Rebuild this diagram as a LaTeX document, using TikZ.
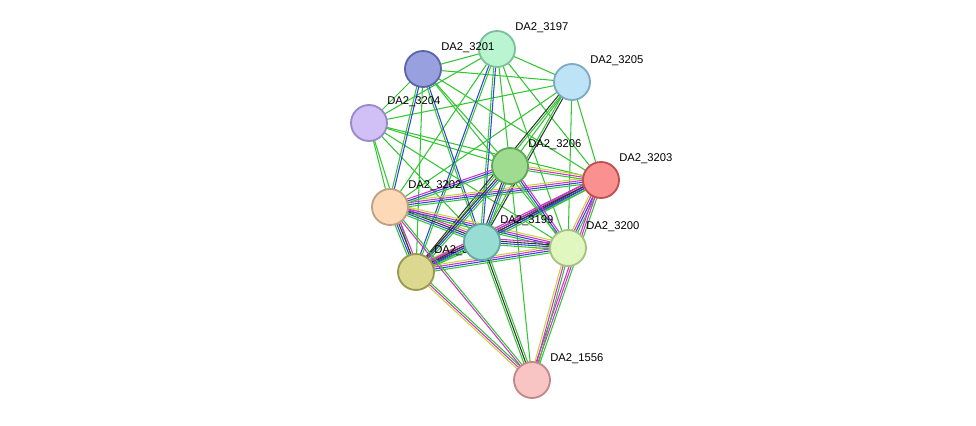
\documentclass[tikz,border=0pt]{standalone}
\usepackage{fontspec}
\setmainfont{Liberation Sans}
\usetikzlibrary{calc}

\definecolor{eGreen}{HTML}{33C633}
\definecolor{eBlue}{HTML}{3344DD}
\definecolor{eMag}{HTML}{CC33CC}
\definecolor{eYel}{HTML}{C8D43C}
\definecolor{eBlack}{HTML}{333333}
\definecolor{f3197}{HTML}{B9F5D0} \definecolor{d3197}{HTML}{7CC09A}
\definecolor{f3201}{HTML}{98A0E0} \definecolor{d3201}{HTML}{5A64A8}
\definecolor{f3205}{HTML}{BDE3F7} \definecolor{d3205}{HTML}{7EA8C4}
\definecolor{f3204}{HTML}{D0C0F5} \definecolor{d3204}{HTML}{9A88C8}
\definecolor{f3206}{HTML}{A0DC90} \definecolor{d3206}{HTML}{60A858}
\definecolor{f3203}{HTML}{FB9090} \definecolor{d3203}{HTML}{C05050}
\definecolor{f3202}{HTML}{FDD9B8} \definecolor{d3202}{HTML}{C0A080}
\definecolor{f3200}{HTML}{E0F8C0} \definecolor{d3200}{HTML}{A8C080}
\definecolor{f3198}{HTML}{DCD890} \definecolor{d3198}{HTML}{989850}
\definecolor{f3199}{HTML}{98DDD4} \definecolor{d3199}{HTML}{60A8A0}
\definecolor{f1556}{HTML}{F8C4C4} \definecolor{d1556}{HTML}{C08888}

\tikzset{
  prot/.style = {circle, minimum size = 0.9cm, line width = 1.3pt, fill = f#1, draw = d#1},
  plabel/.style = {anchor = south west, font = \fontsize{8}{9}\selectfont, inner sep = 0pt},
  edge/.style = {line width = 0.75pt}
}

% one connector drawn as parallel coloured lines
\newcommand{\bundle}[3]{%
  \foreach \c [count = \i] in {#3}
    \draw[edge, \c] ($(#1)!{(\i-2)*1.4pt}!90:(#2)$) -- ($(#2)!{(\i-2)*1.4pt}!-90:(#1)$);
}

\begin{document}
\begin{tikzpicture}[x = 0.025cm, y = -0.025cm]
	 \useasboundingbox (0, 0) rectangle (976, 426);

	 \coordinate (n3197) at (497, 49);
	 \coordinate (n3201) at (423, 69);
	 \coordinate (n3205) at (572, 82);
	 \coordinate (n3204) at (369, 123);
	 \coordinate (n3206) at (510, 166);
	 \coordinate (n3203) at (601, 180);
	 \coordinate (n3202) at (390, 207);
	 \coordinate (n3199) at (482, 242);
	 \coordinate (n3200) at (568, 248);
	 \coordinate (n3198) at (416, 272);
	 \coordinate (n1556) at (532, 380);

	 % green links of the upper nodes
	 \foreach \a/\b in {n3197/n3201, n3197/n3205, n3197/n3204, n3201/n3205, n3201/n3204, n3205/n3204,
	   n3197/n3206, n3197/n3202, n3197/n3200, n3197/n3203, n3201/n3206, n3201/n3203, n3201/n3200,
	   n3201/n3198, n3205/n3206, n3205/n3203, n3205/n3202, n3205/n3200, n3204/n3206, n3204/n3203,
	   n3204/n3202, n3204/n3199, n3204/n3198, n3204/n3200, n3206/n1556}
	 \draw[edge, eGreen] (\a) -- (\b);
	 \bundle{n3197}{n3199}{eGreen, eBlue}
	 \bundle{n3201}{n3199}{eGreen, eBlue}
	 \bundle{n3197}{n3198}{eBlue, eGreen}
	 \bundle{n3205}{n3199}{eGreen, eBlack}
	 \bundle{n3205}{n3198}{eBlack, eGreen}
	 \bundle{n3201}{n3202}{eGreen, eBlue}

	 % dense links of the lower group
	 \bundle{n3202}{n3199}{eGreen, eBlue, eBlack, eMag, eYel}
	 \bundle{n3202}{n3200}{eGreen, eBlue, eMag, eYel}
	 \bundle{n3202}{n3203}{eGreen, eBlue, eMag, eYel}
	 \bundle{n3202}{n3206}{eGreen, eBlue, eMag}
	 \bundle{n3202}{n3198}{eGreen, eBlue, eBlack, eMag}
	 \bundle{n3198}{n3199}{eGreen, eBlue, eBlack, eMag, eYel}
	 \bundle{n3198}{n3200}{eGreen, eBlue, eMag, eYel}
	 \bundle{n3198}{n3203}{eGreen, eBlue, eBlack, eMag}
	 \bundle{n3198}{n3206}{eGreen, eBlue, eBlack}
	 \bundle{n3199}{n3200}{eGreen, eBlue, eBlack, eMag}
	 \bundle{n3199}{n3203}{eGreen, eBlue, eBlack, eMag}
	 \bundle{n3199}{n3206}{eGreen, eBlue, eBlack}
	 \bundle{n3200}{n3203}{eGreen, eBlue, eMag, eYel}
	 \bundle{n3206}{n3203}{eGreen, eMag, eYel}
	 \bundle{n3206}{n3200}{eGreen, eBlue, eMag}

	 % links to DA2_1556
	 \bundle{n1556}{n3198}{eGreen, eMag, eYel}
	 \bundle{n1556}{n3202}{eGreen, eMag}
	 \bundle{n1556}{n3199}{eGreen, eBlack, eGreen}
	 \bundle{n1556}{n3203}{eGreen, eMag, eMag}
	 \bundle{n1556}{n3200}{eGreen, eMag, eYel}

	 % top protein lies under the labels
	 \node[prot = 3197] (p3197) at (n3197) {};

	 % labels
	 \foreach \n in {3197, 3201, 3205, 3204, 3206, 3203, 3202, 3199, 3200, 3198, 1556}
	 \node[plabel] (l\n) at ($(n\n) + (18, -16)$) {DA2\_\n};

	 % proteins
	 \foreach \n in {3201, 3205, 3204, 3206, 3203, 3202, 3200, 3198, 3199, 1556}
	 \node[prot = \n] (p\n) at (n\n) {};
\end{tikzpicture}
\end{document}
